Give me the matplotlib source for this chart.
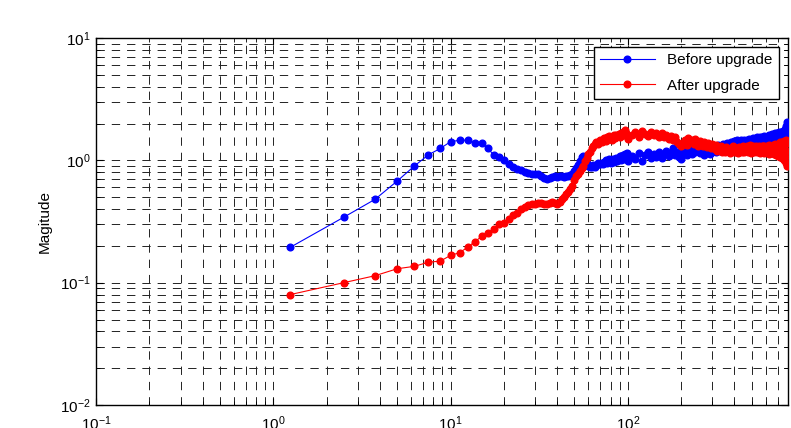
import numpy as np
import matplotlib
matplotlib.use("Agg")
import matplotlib.pyplot as plt
from matplotlib.ticker import LogLocator, NullFormatter

plt.rcParams['font.family'] = ['Liberation Sans', 'DejaVu Sans']
plt.rcParams['mathtext.default'] = 'regular'
plt.rcParams['lines.scale_dashes'] = False

# frequency grid of the spectrum (1.25 Hz bins up to 100 Hz, then every 5 Hz)
freq_low = np.arange(1, 81) * 1.25
freq_high = np.arange(105, 801, 5)

# magnitude before the upgrade
before_low = [
    0.195, 0.343, 0.48, 0.677, 0.898, 1.11, 1.25, 1.42, 1.46, 1.46,
    1.39, 1.39, 1.25, 1.11, 1.06, 1.00, 0.93, 0.88, 0.85, 0.83,
    0.81, 0.79, 0.78, 0.77, 0.77, 0.74, 0.72, 0.71, 0.72, 0.73,
    0.74, 0.73, 0.74, 0.74, 0.73, 0.74, 0.75, 0.76, 0.78, 0.82,
    0.86, 0.92, 0.98, 1.06, 1.08, 1.02, 0.95, 0.90, 0.88, 0.89,
    0.92, 0.88, 0.91, 0.95, 0.93, 0.94, 0.96, 0.93, 0.97, 1.00,
    0.95, 0.98, 1.02, 0.96, 0.99, 1.03, 0.97, 1.00, 1.05, 0.98,
    1.02, 1.08, 1.00, 1.04, 1.10, 1.02, 1.13, 1.06, 1.15, 0.98,
]
before_high = [
    1.08, 1.02, 1.14, 0.98, 1.10, 1.16, 1.04, 1.12, 1.06, 1.18,
    1.05, 1.12, 1.20, 1.08, 1.15, 1.25, 1.10, 1.18, 1.06, 1.03,
    1.15, 1.22, 1.10, 1.26, 1.18, 1.12, 1.24, 1.16, 1.28, 1.20,
    1.14, 1.26, 1.22, 1.10, 1.18, 1.30, 1.20, 1.12, 1.24, 1.16,
    1.22, 1.30, 1.18, 1.26, 1.34, 1.20, 1.28, 1.24, 1.36, 1.26,
    1.30, 1.22, 1.38, 1.28, 1.34, 1.42, 1.26, 1.36, 1.30, 1.44,
    1.32, 1.40, 1.46, 1.34, 1.42, 1.30, 1.48, 1.38, 1.44, 1.36,
    1.46, 1.40, 1.34, 1.48, 1.42, 1.38, 1.50, 1.44, 1.36, 1.46,
    1.40, 1.52, 1.44, 1.38, 1.50, 1.42, 1.54, 1.46, 1.40, 1.52,
    1.44, 1.56, 1.48, 1.42, 1.54, 1.46, 1.58, 1.50, 1.44, 1.56,
    1.48, 1.40, 1.58, 1.50, 1.62, 1.46, 1.54, 1.42, 1.60, 1.52,
    1.64, 1.48, 1.56, 1.44, 1.66, 1.52, 1.60, 1.46, 1.68, 1.54,
    1.62, 1.48, 1.70, 1.56, 1.64, 1.50, 1.72, 1.58, 1.66, 1.52,
    1.74, 1.60, 1.68, 1.54, 1.80, 1.62, 1.90, 1.70, 2.05, 1.95,
]

# magnitude after the upgrade
after_low = [
    0.080, 0.100, 0.114, 0.130, 0.136, 0.147, 0.150, 0.167, 0.176, 0.195,
    0.217, 0.239, 0.254, 0.276, 0.303, 0.31, 0.333, 0.355, 0.373, 0.40,
    0.415, 0.43, 0.44, 0.44, 0.45, 0.45, 0.44, 0.44, 0.45, 0.46,
    0.45, 0.44, 0.46, 0.48, 0.50, 0.53, 0.55, 0.58, 0.62, 0.69,
    0.74, 0.78, 0.82, 0.86, 0.90, 0.98, 1.05, 1.12, 1.18, 1.25,
    1.30, 1.35, 1.40, 1.37, 1.42, 1.46, 1.40, 1.48, 1.52, 1.45,
    1.55, 1.50, 1.58, 1.52, 1.48, 1.56, 1.60, 1.53, 1.62, 1.58,
    1.65, 1.55, 1.68, 1.60, 1.72, 1.62, 1.76, 1.66, 1.58, 1.50,
]
after_high = [
    1.62, 1.70, 1.55, 1.74, 1.64, 1.58, 1.72, 1.60, 1.68, 1.56,
    1.66, 1.54, 1.62, 1.50, 1.58, 1.46, 1.54, 1.42, 1.36, 1.30,
    1.38, 1.46, 1.34, 1.52, 1.42, 1.48, 1.36, 1.50, 1.40, 1.32,
    1.44, 1.36, 1.30, 1.40, 1.34, 1.28, 1.38, 1.32, 1.26, 1.36,
    1.30, 1.24, 1.34, 1.20, 1.28, 1.22, 1.32, 1.18, 1.26, 1.22,
    1.16, 1.28, 1.20, 1.24, 1.14, 1.26, 1.20, 1.30, 1.16, 1.22,
    1.26, 1.18, 1.24, 1.14, 1.28, 1.20, 1.26, 1.16, 1.30, 1.22,
    1.18, 1.28, 1.22, 1.32, 1.16, 1.26, 1.20, 1.34, 1.14, 1.28,
    1.22, 1.30, 1.16, 1.28, 1.24, 1.32, 1.16, 1.28, 1.20, 1.30,
    1.14, 1.28, 1.22, 1.32, 1.16, 1.30, 1.14, 1.32, 1.20, 1.28,
    1.16, 1.32, 1.20, 1.30, 1.12, 1.34, 1.22, 1.30, 1.14, 1.28,
    1.18, 1.34, 1.12, 1.30, 1.20, 1.36, 1.10, 1.32, 1.16, 1.36,
    1.08, 1.34, 1.18, 1.40, 1.06, 1.36, 1.14, 1.42, 1.04, 1.34,
    1.10, 1.44, 1.00, 1.40, 1.06, 1.48, 0.96, 1.38, 0.90, 1.20,
]

freq = np.concatenate([freq_low, freq_high])
before = np.array(before_low + before_high)
after = np.array(after_low + after_high)

fig = plt.figure(figsize=(7.91, 4.28), dpi=100)
ax = fig.add_axes([0.1214, 0.0537, 0.8746, 0.8575])

ax.loglog(freq, before, color='#0000ff', marker='o', markersize=4.8,
          linewidth=0.8, label='Before upgrade', zorder=3)
ax.loglog(freq, after, color='#ff0000', marker='o', markersize=4.8,
          linewidth=0.8, label='After upgrade', zorder=3)

ax.set_xlim(0.1, 800)
ax.set_ylim(0.01, 10)

ax.xaxis.set_major_locator(LogLocator(base=10, numticks=10))
ax.yaxis.set_major_locator(LogLocator(base=10, numticks=10))
ax.xaxis.set_minor_locator(LogLocator(base=10, subs=np.arange(2, 10), numticks=20))
ax.yaxis.set_minor_locator(LogLocator(base=10, subs=np.arange(2, 10), numticks=20))
ax.xaxis.set_minor_formatter(NullFormatter())
ax.yaxis.set_minor_formatter(NullFormatter())

ax.grid(True, which='both', color='#222222', linestyle=(0, (6, 5)), linewidth=0.7)
ax.tick_params(which='both', direction='in', top=True, right=True, labelsize=11)
ax.tick_params(which='major', length=5)
ax.tick_params(which='minor', length=3)
ax.tick_params(axis='x', which='major', pad=7)
ax.tick_params(axis='y', which='major', pad=4)
for sp in ax.spines.values():
    sp.set_linewidth(1.0)

ax.set_ylabel('Magitude', fontsize=11, labelpad=6)

leg = ax.legend(loc='upper right', fontsize=11, handlelength=3.6,
                labelspacing=0.75, fancybox=False, framealpha=1,
                edgecolor='black', borderaxespad=0.6)
leg.get_frame().set_linewidth(1.0)

fig.savefig('out.png', dpi=100)
